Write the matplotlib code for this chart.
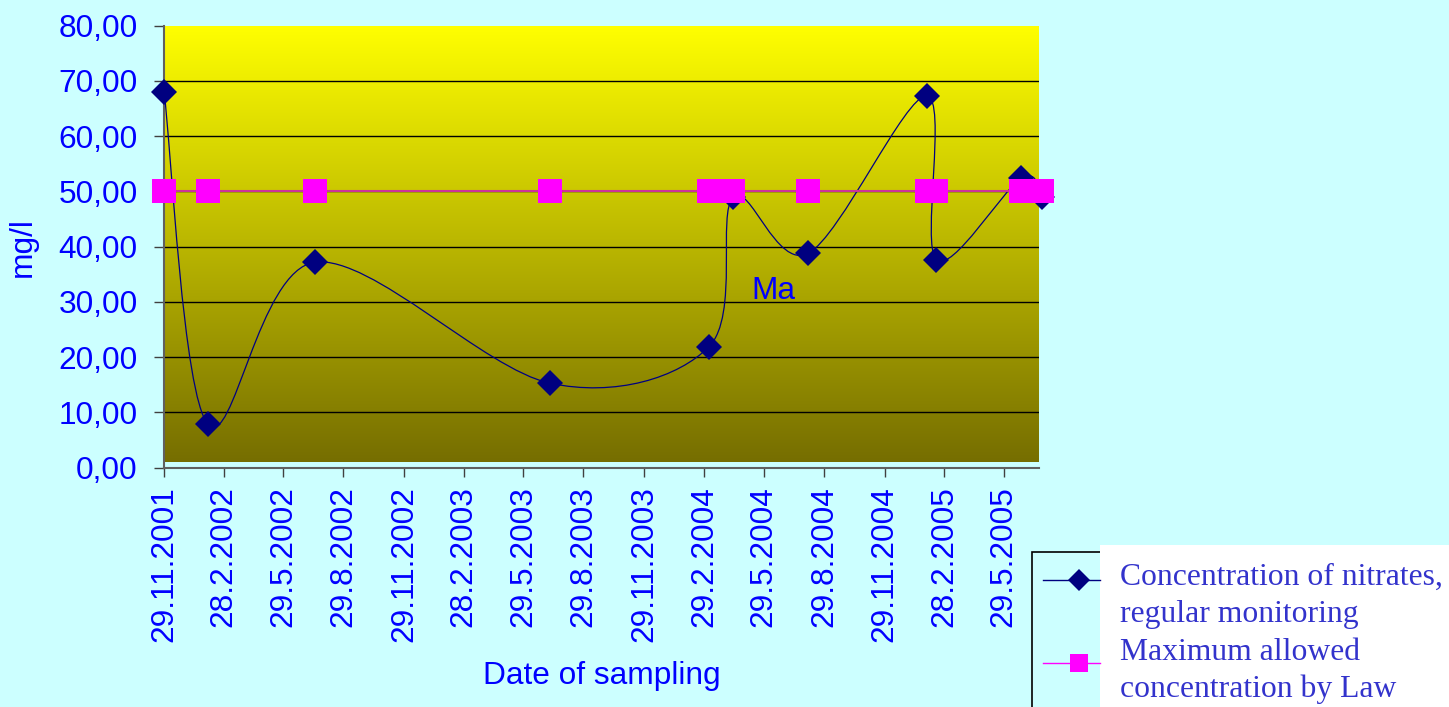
import matplotlib
matplotlib.use("Agg")
import matplotlib.pyplot as plt
import matplotlib.dates as mdates
from matplotlib.path import Path
from matplotlib.patches import PathPatch, Rectangle
from matplotlib.lines import Line2D
from matplotlib.ticker import FuncFormatter
import numpy as np
from datetime import datetime

W, H = 1449, 707

SAMPLE_DATES = ["29.11.2001", "4.2.2002", "17.7.2002", "9.7.2003", "7.3.2004", "13.4.2004",
                "5.8.2004", "1.2.2005", "16.2.2005", "25.6.2005", "27.7.2005"]
NITRATES = [68.05, 7.85, 37.2, 15.3, 21.9, 49.0, 38.8, 67.3, 37.6, 52.4, 49.0]
LAW_LIMIT = [50.0, 50.0, 50.0, 50.0, 50.0, 50.0, 50.0, 50.0, 50.0, 50.0, 50.0]
TICK_LABELS = ["29.11.2001", "28.2.2002", "29.5.2002", "29.8.2002", "29.11.2002", "28.2.2003",
               "29.5.2003", "29.8.2003", "29.11.2003", "29.2.2004", "29.5.2004", "29.8.2004",
               "29.11.2004", "28.2.2005", "29.5.2005"]
X_START = "29.11.2001"
X_END = "22.7.2005"
Y_TICKS = [0, 10, 20, 30, 40, 50, 60, 70, 80]
LEGEND_LABELS = [["Concentration of nitrates,", "regular monitoring"],
                 ["Maximum allowed", "concentration by Law"]]
NOTE_TEXT = "Ma"
NOTE_DATE = "11.5.2004"
NOTE_VALUE = 31.9

BG = "#CCFFFF"
BLUE = "#0000FF"
NAVY = "#000080"
MAGENTA = "#FF00FF"
FS = 22.8


def to_num(s):
    return mdates.date2num(datetime.strptime(s, "%d.%m.%Y"))


def fx(px):
    return px / W


def fy(py):
    return 1 - py / H


def smooth_path(xs, ys):
    # excel-like smoothed line: bezier segments, control points from neighbours
    pts = np.column_stack([xs, ys])
    n = len(pts)
    verts = [pts[0]]
    codes = [Path.MOVETO]
    for i in range(n - 1):
        p_prev = pts[max(i - 1, 0)]
        p0 = pts[i]
        p1 = pts[i + 1]
        p_next = pts[min(i + 2, n - 1)]
        c1 = p0 + (p1 - p_prev) / 6.0
        c2 = p1 - (p_next - p0) / 6.0
        verts += [c1, c2, p1]
        codes += [Path.CURVE4] * 3
    return Path(verts, codes)


plt.rcParams["font.family"] = ["Liberation Sans", "DejaVu Sans"]

fig = plt.figure(figsize=(W / 100, H / 100), dpi=100, facecolor=BG)
ax = fig.add_axes([fx(164), fy(467.7), (1039 - 164) / W, (467.7 - 25.7) / H])
ax.set_facecolor("none")

x = np.array([to_num(s) for s in SAMPLE_DATES])
ax.set_xlim(to_num(X_START), to_num(X_END))
ax.set_ylim(0, 80)

# gradient plot area
grad = np.linspace(0, 1, 256)[:, None]
top = np.array([255, 255, 0]) / 255
bottom = np.array([118, 110, 0]) / 255
img = top[None, None, :] * (1 - grad[:, :, None]) + bottom[None, None, :] * grad[:, :, None]
ax.imshow(img, extent=[0, 1, 0.012, 1], transform=ax.transAxes, aspect="auto", zorder=0)

# grid
ax.set_yticks(Y_TICKS)
ax.set_axisbelow(True)
ax.yaxis.grid(True, color="black", lw=1.0)
ax.xaxis.grid(False)
gl = ax.get_ygridlines()
gl[0].set_visible(False)
gl[-1].set_visible(False)

# nitrate series
ax.add_patch(PathPatch(smooth_path(x, NITRATES), facecolor="none", edgecolor=NAVY,
                       lw=0.9, zorder=3, clip_on=False))
ax.plot(x, NITRATES, linestyle="none", marker="D", markersize=13, color=NAVY,
        markeredgewidth=0, zorder=4, clip_on=False)

# law limit
ax.plot(x, LAW_LIMIT, color="#CC3399", lw=1.5, zorder=5, clip_on=False)
ax.plot(x, LAW_LIMIT, linestyle="none", marker="s", markersize=17, color=MAGENTA,
        markeredgewidth=0, zorder=6, clip_on=False)

ax.text(to_num(NOTE_DATE), NOTE_VALUE, NOTE_TEXT, color=BLUE, fontsize=FS,
        ha="left", va="center", zorder=7)

# axes styling
for side in ["top", "right"]:
    ax.spines[side].set_visible(False)
for side in ["left", "bottom"]:
    ax.spines[side].set_color("#606060")
    ax.spines[side].set_linewidth(1.5)

ax.yaxis.set_major_formatter(FuncFormatter(lambda v, p: f"{v:.2f}".replace(".", ",")))
ax.set_xticks([to_num(s) for s in TICK_LABELS])
ax.set_xticklabels(TICK_LABELS, rotation=90)
ax.tick_params(axis="y", direction="out", length=7, width=1, color="#404040",
               labelsize=FS, labelcolor=BLUE, pad=12)
ax.tick_params(axis="x", direction="out", length=6.5, width=1, color="#404040",
               labelsize=FS, labelcolor=BLUE, pad=7)

fig.text(fx(23), fy(247), "mg/l", rotation=90, ha="center", va="center",
         color=BLUE, fontsize=FS)
fig.text(fx(602), fy(676), "Date of sampling", ha="center", va="center",
         color=BLUE, fontsize=FS)

# legend box (runs off the figure edge)
fig.add_artist(Rectangle((fx(1032), fy(730)), (1500 - 1032) / W, (730 - 552) / H,
                         transform=fig.transFigure, facecolor=BG, edgecolor="black", lw=1.2))
fig.add_artist(Rectangle((fx(1100), fy(730)), (1500 - 1100) / W, (730 - 545) / H,
                         transform=fig.transFigure, facecolor="white", edgecolor="none"))

handles = [(579.5, NAVY, NAVY, "D", 11), (663.3, MAGENTA, MAGENTA, "s", 13)]
for (hy, lc, mc, mk, ms) in handles:
    fig.add_artist(Line2D([fx(1043), fx(1100)], [fy(hy), fy(hy)], transform=fig.transFigure,
                          color=lc, lw=1.0))
    fig.add_artist(Line2D([fx(1079)], [fy(hy)], transform=fig.transFigure, linestyle="none",
                          marker=mk, markersize=ms, color=mc, markeredgewidth=0))

baselines = [585, 622, 660, 697]
lines = LEGEND_LABELS[0] + LEGEND_LABELS[1]
for by, t in zip(baselines, lines):
    fig.text(fx(1120), fy(by), t, family=["Liberation Serif", "DejaVu Serif"],
             fontsize=FS, color="#3333CC", ha="left", va="baseline")

fig.savefig("out.png", dpi=100, facecolor=BG)
